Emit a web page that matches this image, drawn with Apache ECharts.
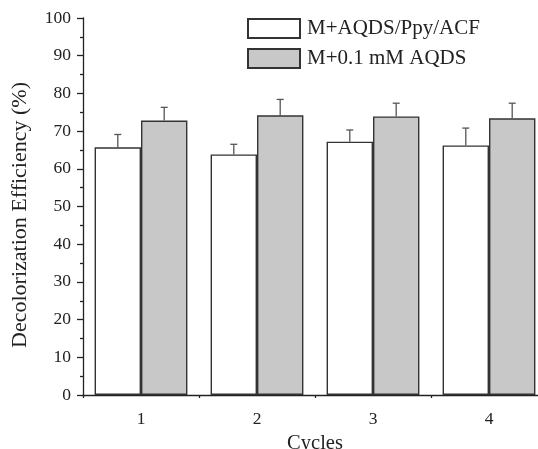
<!DOCTYPE html>
<html>
<head>
<meta charset="utf-8">
<script src="https://cdn.jsdelivr.net/npm/echarts@6/dist/echarts.min.js"></script>
<style>
html,body{margin:0;padding:0;background:#fff;}
#chart{width:538px;height:449px;}
</style>
</head>
<body>
<div id="chart"></div>
<script>
var categories = ['1', '2', '3', '4'];
var acfValues = [65.7, 63.8, 67.2, 66.2];
var acfErrors = [3.4, 2.7, 3.1, 4.6];
var aqdsValues = [72.8, 74.2, 73.9, 73.4];
var aqdsErrors = [3.5, 4.2, 3.5, 4.0];
var seriesNames = ['M+AQDS/Ppy/ACF', 'M+0.1 mM AQDS'];
var yMin = 0, yMax = 100, yInterval = 10;

var FONT = 'Liberation Serif';
var chart = echarts.init(document.getElementById('chart'), null, {renderer: 'canvas'});

function errorSeries(values, errors, side) {
  var data = values.map(function (v, i) { return [i, v, errors[i]]; });
  return {
    type: 'custom',
    xAxisIndex: 0,
    yAxisIndex: 0,
    silent: true,
    z: 5,
    data: data,
    renderItem: function (params, api) {
      var idx = api.value(0);
      var v = api.value(1);
      var e = api.value(2);
      var band = api.size([1, 0])[0];
      var base = api.coord([idx, v]);
      var top = api.coord([idx, v + e]);
      var x = base[0] + side * band * 0.2;
      var cap = 3.5;
      return {
        type: 'group',
        children: [
          {type: 'line', shape: {x1: x, y1: base[1], x2: x, y2: top[1]},
           style: {stroke: '#555', lineWidth: 1.3}},
          {type: 'line', shape: {x1: x - cap, y1: top[1], x2: x + cap, y2: top[1]},
           style: {stroke: '#555', lineWidth: 1.3}}
        ]
      };
    }
  };
}

var option = {
  backgroundColor: '#fff',
  animation: false,
  textStyle: {fontFamily: FONT},
  grid: {left: 83, right: -9, top: 18, bottom: 54, containLabel: false, outerBoundsMode: 'none'},
  legend: {
    orient: 'vertical',
    left: 247,
    top: 18,
    padding: 0,
    itemWidth: 52,
    itemHeight: 19,
    itemGap: 9,
    icon: 'rect',
    textStyle: {fontFamily: FONT, fontSize: 21, lineHeight: 20, color: '#222', padding: [0, 0, 0, 2]},
    data: seriesNames
  },
  xAxis: [{
    type: 'category',
    data: categories,
    boundaryGap: true,
    axisLine: {lineStyle: {color: '#222', width: 1.3}},
    axisTick: {alignWithLabel: true, length: 6, inside: false, lineStyle: {color: '#222', width: 1.3}},
    axisLabel: {fontFamily: FONT, fontSize: 17.5, color: '#222', margin: 15},
    splitLine: {show: false},
    name: 'Cycles',
    nameLocation: 'middle',
    nameGap: 34,
    nameTextStyle: {fontFamily: FONT, fontSize: 20.5, color: '#222'}
  }, {
    type: 'value',
    min: 0,
    max: 8,
    interval: 2,
    position: 'bottom',
    axisLine: {show: false},
    axisTick: {show: true, length: 3, lineStyle: {color: '#222', width: 1.3}},
    axisLabel: {show: false},
    splitLine: {show: false}
  }],
  yAxis: {
    type: 'value',
    min: yMin,
    max: yMax,
    interval: yInterval,
    axisLine: {show: true, lineStyle: {color: '#222', width: 1.3}},
    axisTick: {show: true, length: 6, lineStyle: {color: '#222', width: 1.3}},
    minorTick: {show: true, splitNumber: 2, length: 3, lineStyle: {color: '#222', width: 1.3}},
    axisLabel: {fontFamily: FONT, fontSize: 17.5, color: '#222', margin: 12},
    splitLine: {show: false},
    name: 'Decolorization Efficiency (%)',
    nameLocation: 'middle',
    nameGap: 52,
    nameTextStyle: {fontFamily: FONT, fontSize: 22, color: '#222', padding: [0, 17, 0, 0]}
  },
  series: [{
    name: seriesNames[0],
    type: 'bar',
    data: acfValues,
    barGap: '0%',
    barCategoryGap: '20%',
    itemStyle: {color: '#ffffff', borderColor: '#333', borderWidth: 1.4}
  }, {
    name: seriesNames[1],
    type: 'bar',
    data: aqdsValues,
    barGap: '0%',
    barCategoryGap: '20%',
    itemStyle: {color: '#c8c8c8', borderColor: '#333', borderWidth: 1.4}
  },
  errorSeries(acfValues, acfErrors, -1),
  errorSeries(aqdsValues, aqdsErrors, 1)
  ]
};
chart.setOption(option);
</script>
</body>
</html>
